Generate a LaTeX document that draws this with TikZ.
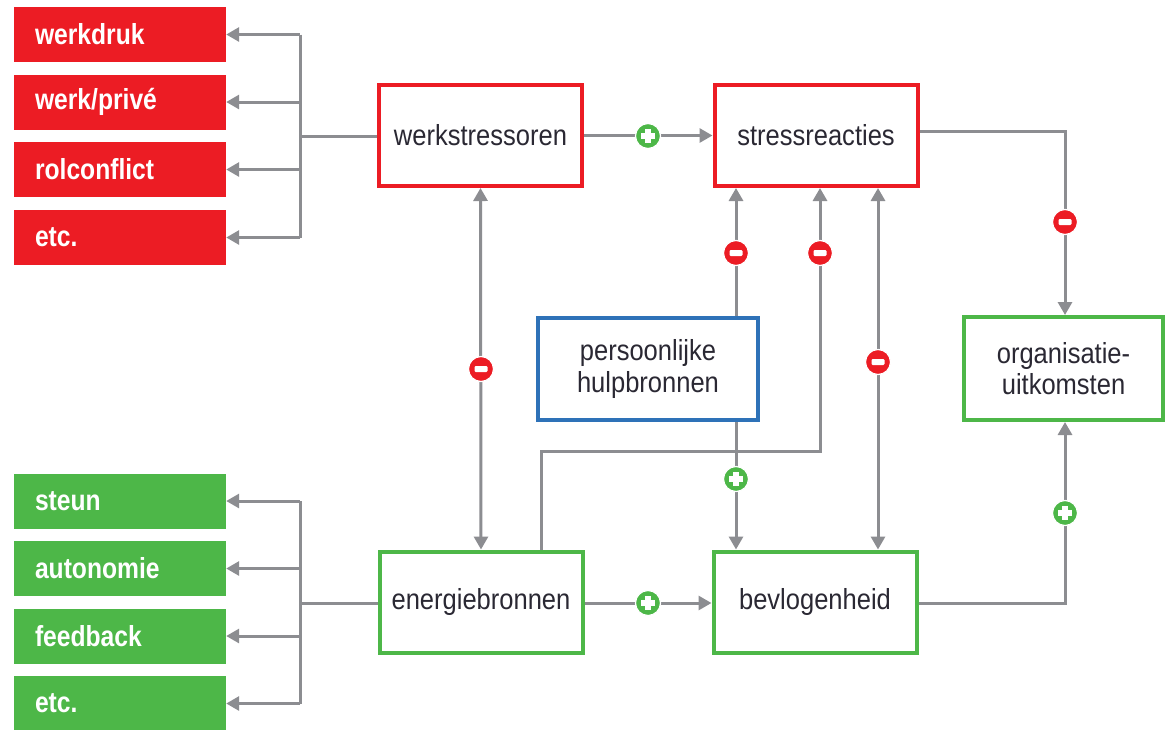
\documentclass[tikz,border=0pt]{standalone}
\usepackage{fontspec}
\setmainfont{Liberation Sans}[FakeStretch=0.88]
\newfontfamily\wfont{Liberation Sans}[FakeStretch=0.85]
\usetikzlibrary{arrows.meta}
\definecolor{cred}{HTML}{EC1C24}
\definecolor{cgreen}{HTML}{4DB748}
\definecolor{cblue}{HTML}{2E72B8}
\definecolor{cgrey}{HTML}{8C8D91}
\definecolor{ctext}{HTML}{2A2833}
\tikzset{
  box/.style={draw, line width=4pt, fill=white, minimum width=203pt, minimum height=101pt,
    inner sep=0pt, align=center, text=ctext, font=\fontsize{29}{31.5}\selectfont},
  redbox/.style={box, draw=cred},
  greenbox/.style={box, draw=cgreen},
  bluebox/.style={box, draw=cblue, minimum width=220pt, minimum height=102pt},
  tag/.style={minimum height=55pt, text width=170pt, inner xsep=21pt, inner ysep=0pt,
    align=left, text=white, font=\wfont\bfseries\fontsize{29}{31}\selectfont},
  redtag/.style={tag, fill=cred},
  greentag/.style={tag, fill=cgreen},
  conn/.style={draw=cgrey, line width=3pt},
  arr/.style={conn, -{Triangle[length=13pt,width=14pt]}},
  arrtwo/.style={conn, {Triangle[length=13pt,width=14pt]}-{Triangle[length=13pt,width=14pt]}},
  sign/.style={circle, draw=white, line width=1.2pt, minimum size=25pt, inner sep=0pt},
  plusc/.style={sign, fill=cgreen, path picture={
    \fill[white] ([xshift=-7pt,yshift=-2.6pt]path picture bounding box.center) rectangle ([xshift=7pt,yshift=2.6pt]path picture bounding box.center);
    \fill[white] ([xshift=-2.6pt,yshift=-7pt]path picture bounding box.center) rectangle ([xshift=2.6pt,yshift=7pt]path picture bounding box.center);}},
  minusc/.style={sign, fill=cred, path picture={
    \fill[white, rounded corners=1.2pt] ([xshift=-6.5pt,yshift=-3pt]path picture bounding box.center) rectangle ([xshift=6.5pt,yshift=3pt]path picture bounding box.center);}}
}
\begin{document}
\begin{tikzpicture}[x=1pt,y=-1pt]
\useasboundingbox[fill=white] (0,0) rectangle (1166,729);

% main boxes
\node[redbox] (ws) at (480.5,135.5) {werkstressoren};
\node[redbox] (sr) at (816,135.5) {stressreacties};
\node[bluebox] (ph) at (648,369) {persoonlijke\\hulpbronnen};
\node[greenbox, minimum width=199pt, minimum height=103pt] (ou) at (1063.5,368.5) {organisatie-\\uitkomsten};
\node[greenbox] (eb) at (481,602) {energiebronnen};
\node[greenbox] (bv) at (815,602) {bevlogenheid};

% left tags
\node[redtag] (r1) at (120,34.5) {werkdruk};
\node[redtag] (r2) at (120,102) {werk/privé};
\node[redtag] (r3) at (120,169.5) {rolconflict};
\node[redtag] (r4) at (120,237.5) {etc.};
\node[greentag] (g1) at (120,501) {steun};
\node[greentag] (g2) at (120,568.5) {autonomie};
\node[greentag] (g3) at (120,636) {feedback};
\node[greentag] (g4) at (120,703.5) {etc.};

% helper coordinates
\coordinate (rb) at (300,136);
\coordinate (gb) at (300,603);
\coordinate (xa) at (541,0);
\coordinate (xb) at (736,0);
\coordinate (xc) at (820,451);
\coordinate (xd) at (878,0);
\coordinate (ka) at (1065,131);
\coordinate (kb) at (1065,603);

% fan-outs
\draw[conn] (ws.west |- rb) -- (rb);
\draw[conn] (r1.east -| rb) -- (r4.east -| rb);
\foreach \n in {r1,r2,r3,r4} \draw[arr] (\n.east -| rb) -- (\n.east);
\draw[conn] (eb.west |- gb) -- (gb);
\draw[conn] (g1.east -| gb) -- (g4.east -| gb);
\foreach \n in {g1,g2,g3,g4} \draw[arr] (\n.east -| gb) -- (\n.east);

% connectors
\draw[arr] (ws.east) -- (sr.west);
\draw[arr] (eb.east |- gb) -- (bv.west |- gb);
\draw[arrtwo] (ws.south) -- (eb.north);
\draw[arr] (ph.north -| xb) -- (sr.south -| xb);
\draw[arr] (ph.south -| xb) -- (bv.north -| xb);
\draw[arr] (eb.north -| xa) |- (xc) -- (sr.south -| xc);
\draw[arrtwo] (sr.south -| xd) -- (bv.north -| xd);
\draw[arr] (sr.east |- ka) -- (ka) -- (ou.north -| ka);
\draw[arr] (bv.east |- kb) -- (kb) -- (ou.south -| kb);

% signs
\node[plusc] (s1) at (648,136) {};
\node[plusc] (s2) at (648,603) {};
\node[minusc] (s3) at (481,369) {};
\node[minusc] (s4) at (736,253) {};
\node[minusc] (s5) at (820,253) {};
\node[plusc] (s6) at (736,479) {};
\node[minusc] (s7) at (878,362) {};
\node[minusc] (s8) at (1065,222) {};
\node[plusc] (s9) at (1065,513) {};
\end{tikzpicture}
\end{document}
